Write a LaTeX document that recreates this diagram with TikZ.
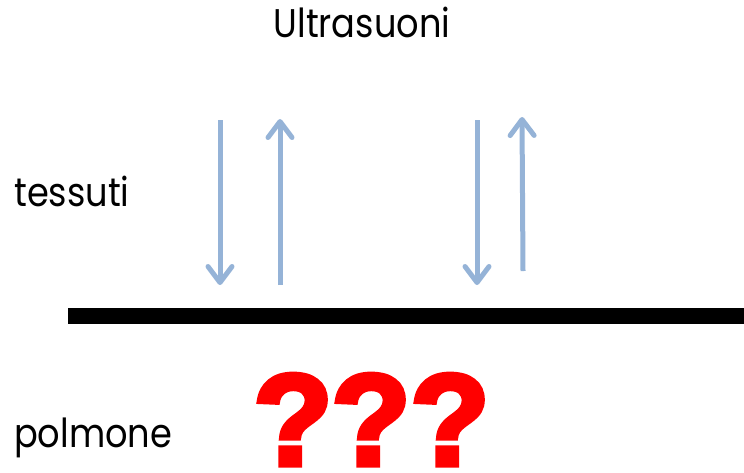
\documentclass[tikz,border=0pt]{standalone}
\usepackage{fontspec}
\setmainfont{Poppins}[FakeStretch=0.88]
\newfontfamily\qfont[FakeBold=4]{Liberation Sans Bold}
\usetikzlibrary{arrows.meta}
\definecolor{wave}{HTML}{95B3D7}
\definecolor{qred}{HTML}{FF0000}
\tikzset{
  label text/.style={anchor=base west, font=\fontsize{40}{46}\selectfont, inner sep=0pt},
  echo/.style={draw=wave, line width=5pt,
    -{Straight Barb[length=16pt, width=24pt, round]}},
  qmark/.style={text=qred, font=\qfont\fontsize{130}{130}\selectfont,
    inner sep=0pt, anchor=base, xscale=1.0}
}
\begin{document}
\begin{tikzpicture}[x=1pt, y=-1pt]
  \useasboundingbox (0,0) rectangle (744,472);
  \clip (0,0) rectangle (744,472);

  % labels
  \node[label text, anchor=base] (title) at (362,37) {Ultrasuoni};
  \node[label text] (tissue) at (14,206) {tessuti};
  \node[label text] (lung) at (14,447) {polmone};

  % interface between tissue and lung
  \coordinate (ifL) at (68,316);
  \coordinate (ifR) at (744,316);
  \draw[line width=16pt] (ifL) -- (ifR);

  % incident and reflected beams
  \coordinate (a1) at (220,120); \coordinate (a2) at (220,285);
  \coordinate (b1) at (280,285); \coordinate (b2) at (280,119);
  \coordinate (c1) at (477,120); \coordinate (c2) at (477,285);
  \coordinate (d1) at (523,271); \coordinate (d2) at (522,117);
  \draw[echo] (a1) -- (a2);
  \draw[echo] (b1) -- (b2);
  \draw[echo] (c1) -- (c2);
  \draw[echo] (d1) -- (d2);

  % unknown below the interface
  \node[qmark] (q1) at (293,465) {?};
  \node[qmark] (q2) at (371,465) {?};
  \node[qmark] (q3) at (450,465) {?};
\end{tikzpicture}
\end{document}
